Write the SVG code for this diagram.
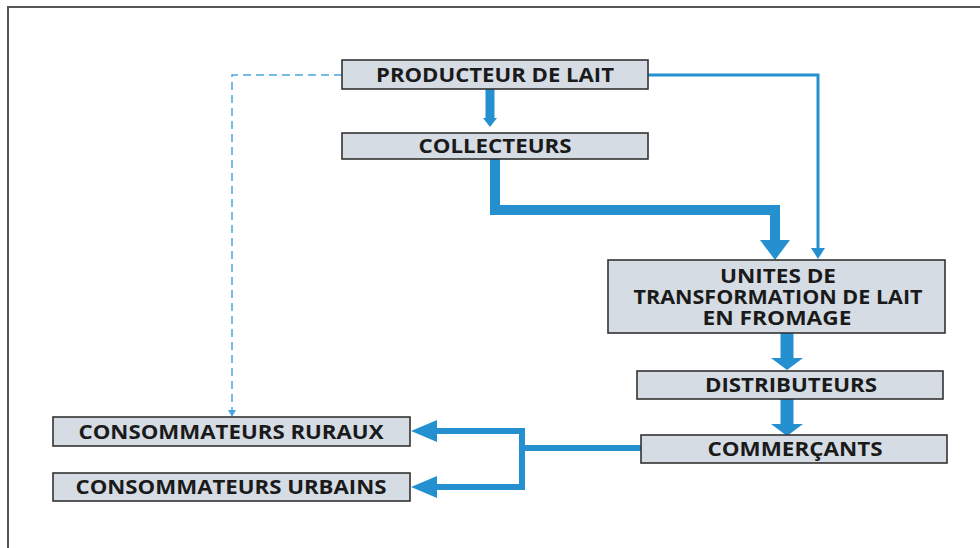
<svg xmlns="http://www.w3.org/2000/svg" width="980" height="548" viewBox="0 0 980 548">
<style>
.box{fill:#d6dce4;stroke:#333;stroke-width:1.6}
.t{font-family:"Open Sans","Liberation Sans",sans-serif;font-weight:bold;font-size:19px;fill:#1a1a1a;text-anchor:middle}
.c{fill:none;stroke:#2590cf;stroke-linejoin:miter}
.ah{fill:#2590cf}
</style>
<defs>
<marker id="a1" markerUnits="userSpaceOnUse" markerWidth="24" markerHeight="14" refX="0" refY="11" orient="auto" viewBox="0 0 14 22"><path class="ah" d="M0,0 L14,11 L0,22 Z"/></marker>
<marker id="a2" markerUnits="userSpaceOnUse" markerWidth="20" markerHeight="30" refX="0" refY="15" orient="auto" viewBox="0 0 20 30"><path class="ah" d="M0,0 L20,15 L0,30 Z"/></marker>
<marker id="a3" markerUnits="userSpaceOnUse" markerWidth="12" markerHeight="32" refX="0" refY="16" orient="auto" viewBox="0 0 12 32"><path class="ah" d="M0,0 L12,16 L0,32 Z"/></marker>
<marker id="a4" markerUnits="userSpaceOnUse" markerWidth="26" markerHeight="22" refX="0" refY="11" orient="auto" viewBox="0 0 26 22"><path class="ah" d="M0,0 L26,11 L0,22 Z"/></marker>
<marker id="a5" markerUnits="userSpaceOnUse" markerWidth="11" markerHeight="14" refX="0" refY="7" orient="auto" viewBox="0 0 11 14"><path class="ah" d="M0,0 L11,7 L0,14 Z"/></marker>
<marker id="a6" markerUnits="userSpaceOnUse" markerWidth="7" markerHeight="8" refX="0" refY="4" orient="auto" viewBox="0 0 7 8"><path fill="#4aa6e0" d="M0,0 L7,4 L0,8 Z"/></marker>
</defs>
<path d="M8,548 V7 H980" fill="none" stroke="#555" stroke-width="2"/>
<g id="connectors">
<path class="c" d="M342,75 H232 V410" style="stroke:#4aa6e0" stroke-width="1.5" stroke-dasharray="8,5" marker-end="url(#a6)"/>
<path class="c" d="M490,89 V118" stroke-width="9" marker-end="url(#a1)"/>
<path class="c" d="M495,159 V210 H775 V240" stroke-width="10" marker-end="url(#a2)"/>
<path class="c" d="M648,75 H818 V248" stroke-width="3" marker-end="url(#a5)"/>
<path class="c" d="M787,333 V358" stroke-width="13" marker-end="url(#a3)"/>
<path class="c" d="M787,399 V424" stroke-width="13" marker-end="url(#a3)"/>
<path class="c" d="M641,448 H522 V431 H437" stroke-width="6" marker-end="url(#a4)"/>
<path class="c" d="M522,445 V487 H437" stroke-width="6" marker-end="url(#a4)"/>
</g>
<g id="producteur"><rect class="box" x="342" y="60" width="306" height="29"/><text class="t" x="495" y="81.5" textLength="238" lengthAdjust="spacingAndGlyphs">PRODUCTEUR DE LAIT</text></g>
<g id="collecteurs"><rect class="box" x="342" y="133" width="306" height="26"/><text class="t" x="495" y="153" textLength="153" lengthAdjust="spacingAndGlyphs">COLLECTEURS</text></g>
<g id="unites"><rect class="box" x="608" y="260" width="337" height="73"/><text class="t" y="283"><tspan x="778" textLength="116" lengthAdjust="spacingAndGlyphs">UNITES DE</tspan><tspan x="778" dy="21" textLength="289" lengthAdjust="spacingAndGlyphs">TRANSFORMATION DE LAIT</tspan><tspan x="777" dy="21" textLength="149" lengthAdjust="spacingAndGlyphs">EN FROMAGE</tspan></text></g>
<g id="distributeurs"><rect class="box" x="637" y="371" width="306" height="28"/><text class="t" x="791" y="392" textLength="172" lengthAdjust="spacingAndGlyphs">DISTRIBUTEURS</text></g>
<g id="commercants"><rect class="box" x="641" y="435" width="306" height="28"/><text class="t" x="795" y="456" textLength="175" lengthAdjust="spacingAndGlyphs">COMMERÇANTS</text></g>
<g id="ruraux"><rect class="box" x="53" y="417" width="357" height="29"/><text class="t" x="231" y="438.5" textLength="305" lengthAdjust="spacingAndGlyphs">CONSOMMATEURS RURAUX</text></g>
<g id="urbains"><rect class="box" x="53" y="473" width="357" height="28"/><text class="t" x="231" y="494" textLength="311" lengthAdjust="spacingAndGlyphs">CONSOMMATEURS URBAINS</text></g>
</svg>
